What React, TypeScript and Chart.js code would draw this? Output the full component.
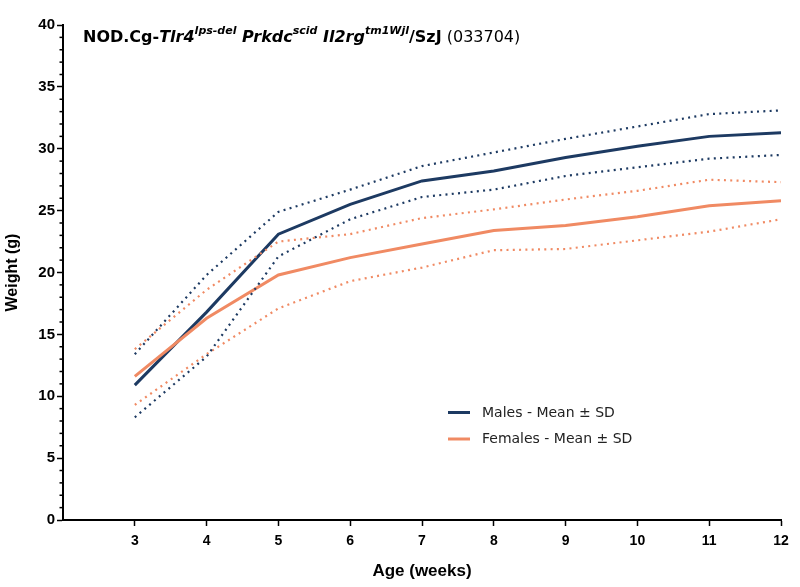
import React, { useEffect, useRef } from "react";
import { Chart, registerables } from "chart.js";

Chart.register(...registerables);

// ---- Data ----
const weeks = [3, 4, 5, 6, 7, 8, 9, 10, 11, 12];
const maleMean = [10.9, 16.8, 23.1, 25.5, 27.4, 28.2, 29.3, 30.2, 31.0, 31.3];
const maleUpper = [13.4, 19.8, 24.9, 26.7, 28.6, 29.7, 30.8, 31.8, 32.8, 33.1];
const maleLower = [8.3, 13.2, 21.3, 24.3, 26.1, 26.7, 27.8, 28.5, 29.2, 29.5];
const femaleMean = [11.6, 16.3, 19.8, 21.2, 22.3, 23.4, 23.8, 24.5, 25.4, 25.8];
const femaleUpper = [13.8, 18.6, 22.5, 23.1, 24.4, 25.1, 25.9, 26.6, 27.5, 27.3];
const femaleLower = [9.3, 13.4, 17.1, 19.3, 20.4, 21.8, 21.9, 22.6, 23.3, 24.3];
const legendLabels = ["Males - Mean ± SD", "Females - Mean ± SD"];
const xTitle = "Age (weeks)";
const yTitle = "Weight (g)";

const MALE = "#1d3a62";
const FEMALE = "#f08a63";

const toPts = (arr: number[]) => arr.map((v, i) => ({ x: weeks[i], y: v }));

const TF = "'DejaVu Sans', sans-serif";
const AF = "'Liberation Sans', Arial, sans-serif";
const titleSegments = [
  { text: "NOD.Cg-", font: `bold 16px ${TF}`, sup: false },
  { text: "Tlr4", font: `italic bold 16px ${TF}`, sup: false },
  { text: "lps-del", font: `italic bold 11px ${TF}`, sup: true },
  { text: " Prkdc", font: `italic bold 16px ${TF}`, sup: false },
  { text: "scid", font: `italic bold 11px ${TF}`, sup: true },
  { text: " Il2rg", font: `italic bold 16px ${TF}`, sup: false },
  { text: "tm1Wjl", font: `italic bold 11px ${TF}`, sup: true },
  { text: "/SzJ", font: `bold 16px ${TF}`, sup: false },
  { text: " (033704)", font: `16px ${TF}`, sup: false },
];

const overlayPlugin = {
  id: "overlay",
  afterDraw(chart: any) {
    const ctx = chart.ctx;
    ctx.save();
    // title
    let x = 83;
    const base = 42;
    ctx.fillStyle = "#000";
    ctx.textBaseline = "alphabetic";
    ctx.textAlign = "left";
    for (const s of titleSegments) {
      ctx.font = s.font;
      ctx.fillText(s.text, x, base - (s.sup ? 8 : 0));
      x += ctx.measureText(s.text).width;
    }
    // legend
    const rows = [
      { label: legendLabels[0], color: MALE, y: 412.5 },
      { label: legendLabels[1], color: FEMALE, y: 439 },
    ];
    ctx.font = `14px ${TF}`;
    ctx.textBaseline = "middle";
    for (const r of rows) {
      ctx.strokeStyle = r.color;
      ctx.lineWidth = 3;
      ctx.beginPath();
      ctx.moveTo(448, r.y);
      ctx.lineTo(470, r.y);
      ctx.stroke();
      ctx.fillStyle = "#222";
      ctx.fillText(r.label, 482, r.y + 0.5);
    }
    // minor y ticks
    const ys = chart.scales.y;
    const ax = chart.chartArea.left;
    ctx.strokeStyle = "#000";
    ctx.lineWidth = 1.5;
    for (let v = 0; v <= 40; v++) {
      if (v % 5 === 0) continue;
      const py = ys.getPixelForValue(v);
      ctx.beginPath();
      ctx.moveTo(ax - 3.5, py);
      ctx.lineTo(ax, py);
      ctx.stroke();
    }
    ctx.restore();
  },
};

export default function App() {
  const ref = useRef<HTMLCanvasElement>(null);
  useEffect(() => {
    if (!ref.current) return;
    const sd = (data: number[], color: string) => ({
      data: toPts(data),
      borderColor: color,
      borderWidth: 2.2,
      borderDash: [2, 4.3],
      pointRadius: 0,
      tension: 0,
      fill: false,
    });
    const mean = (data: number[], color: string) => ({
      data: toPts(data),
      borderColor: color,
      borderWidth: 3,
      pointRadius: 0,
      tension: 0,
      fill: false,
    });
    const chart = new Chart(ref.current, {
      type: "line",
      data: {
        datasets: [
          sd(maleUpper, MALE),
          sd(maleLower, MALE),
          sd(femaleUpper, FEMALE),
          sd(femaleLower, FEMALE),
          mean(femaleMean, FEMALE),
          mean(maleMean, MALE),
        ] as any,
      },
      options: {
        animation: false,
        responsive: false,
        events: [],
        layout: { padding: { left: 0, right: 19, top: 25, bottom: 0 } },
        plugins: { legend: { display: false }, tooltip: { enabled: false } },
        scales: {
          x: {
            type: "linear",
            min: 2,
            max: 12,
            afterFit: (s: any) => {
              s.height = 67;
            },
            afterBuildTicks: (s: any) => {
              s.ticks = weeks.map((w) => ({ value: w }));
            },
            border: { display: true, color: "#000", width: 2 },
            grid: {
              drawOnChartArea: false,
              drawTicks: true,
              tickLength: 6,
              tickColor: "#000",
              tickWidth: 1.5,
            },
            ticks: {
              padding: 7,
              color: "#000",
              font: { family: AF, weight: "bold", size: 14 },
              callback: (v: any) => String(v),
            },
            title: {
              display: true,
              text: xTitle,
              color: "#000",
              font: { family: AF, weight: "bold", size: 17 },
              padding: { top: 0, bottom: 5 },
            },
          },
          y: {
            type: "linear",
            min: 0,
            max: 40,
            afterFit: (s: any) => {
              s.width = 63;
            },
            border: { display: true, color: "#000", width: 2 },
            grid: {
              drawOnChartArea: false,
              drawTicks: true,
              tickLength: 6,
              tickColor: "#000",
              tickWidth: 1.5,
            },
            ticks: {
              stepSize: 5,
              padding: 2,
              color: "#000",
              font: { family: AF, weight: "bold", size: 15 },
            },
            title: {
              display: true,
              text: yTitle,
              color: "#000",
              font: { family: AF, weight: "bold", size: 16 },
              padding: { top: 3, bottom: 0 },
            },
          },
        },
      },
      plugins: [overlayPlugin],
    } as any);
    return () => chart.destroy();
  }, []);
  return (
    <div style={{ position: "fixed", left: 0, top: 0, width: 800, height: 587, background: "#fff" }}>
      <canvas ref={ref} width={800} height={587} style={{ display: "block" }} />
    </div>
  );
}
